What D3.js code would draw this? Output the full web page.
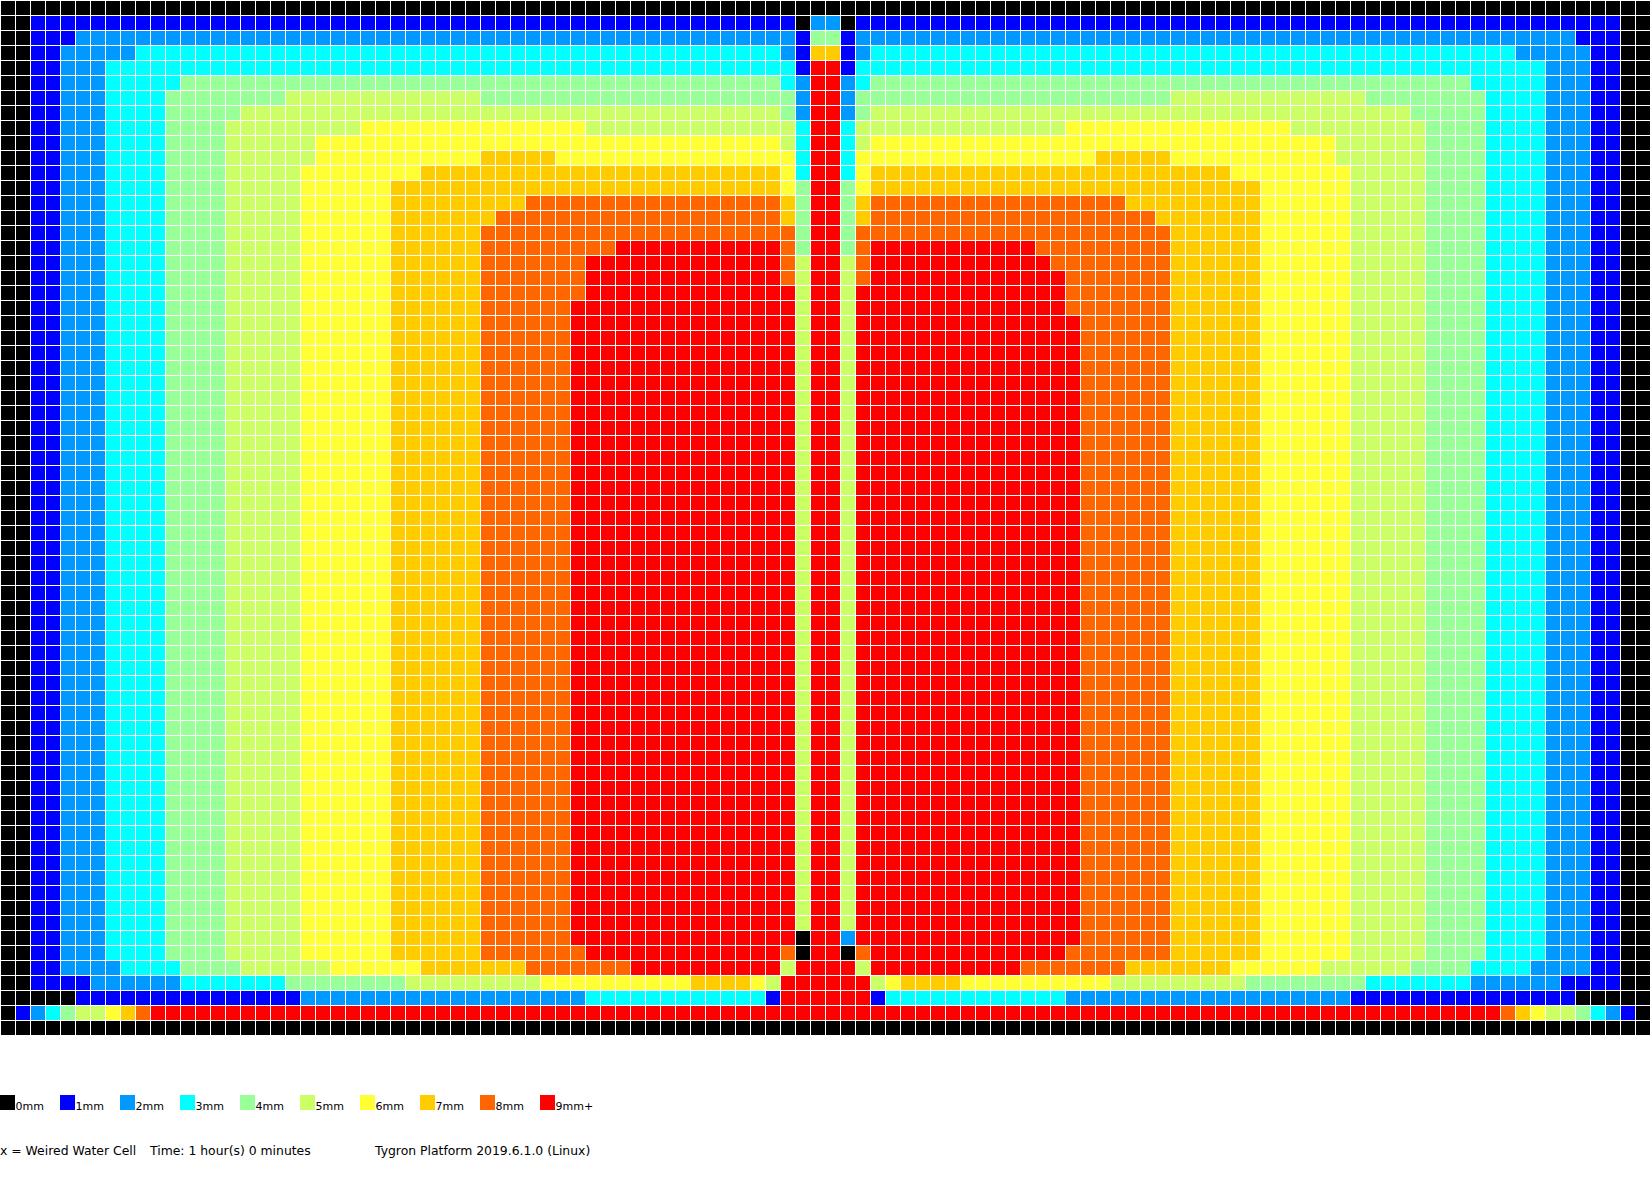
<!DOCTYPE html>
<html><head><meta charset="utf-8">
<script src="https://cdn.jsdelivr.net/npm/d3@7/dist/d3.min.js"></script>
<style>html,body{margin:0;padding:0;background:#fff}svg{display:block}text{font-family:"DejaVu Sans";fill:#000}.legend-label{font-size:11px}.footer{font-size:12.4px}</style>
</head><body><div id="chart"></div>
<script>
const depthClasses = [0,1,2,3,4,5,6,7,8,9];
const depthLabels = ["0mm","1mm","2mm","3mm","4mm","5mm","6mm","7mm","8mm","9mm+"];
const depthColors = ["#000000","#0000ff","#0099ff","#00ffff","#99ff99","#ccff66","#ffff33","#ffcc00","#ff6600","#ff0000"];
const footerTexts = ["x = Weired Water Cell","Time: 1 hour(s) 0 minutes","Tygron Platform 2019.6.1.0 (Linux)"];
const columnCount = 110;
// Each row, top to bottom: how many identical rows, then (depth class, run length) pairs.
const rowRepeats = [1,1,1,1,1,1,1,1,1,1,1,1,1,1,1,1,1,1,1,1,1,41,1,1,1,1,1,1,1];
const rowRuns = [
[0,110],
[0,2,1,51,0,1,2,2,0,1,1,51,0,2],
[0,2,1,3,2,48,1,1,4,2,1,1,2,48,1,3,0,2],
[0,2,1,2,2,5,3,43,2,1,1,1,7,2,1,1,2,1,3,43,2,5,1,2,0,2],
[0,2,1,2,2,3,3,46,1,1,9,2,1,1,3,46,2,3,1,2,0,2],
[0,2,1,2,2,3,3,5,4,40,3,1,2,1,9,2,2,1,3,1,4,40,3,5,2,3,1,2,0,2],
[0,2,1,2,2,3,3,4,4,8,5,13,4,21,2,1,9,2,2,1,4,21,5,13,4,8,3,4,2,3,1,2,0,2],
[0,2,1,2,2,3,3,4,4,5,5,36,4,1,2,1,9,2,2,1,4,1,5,36,4,5,3,4,2,3,1,2,0,2],
[0,2,1,2,2,3,3,4,4,4,5,9,6,15,5,14,3,1,9,2,3,1,5,14,6,15,5,9,4,4,3,4,2,3,1,2,0,2],
[0,2,1,2,2,3,3,4,4,4,5,6,6,31,5,1,3,1,9,2,3,1,5,1,6,31,5,6,4,4,3,4,2,3,1,2,0,2],
[0,2,1,2,2,3,3,4,4,4,5,6,6,11,7,5,6,16,3,1,9,2,3,1,6,16,7,5,6,11,5,6,4,4,3,4,2,3,1,2,0,2],
[0,2,1,2,2,3,3,4,4,4,5,5,6,8,7,24,6,1,3,1,9,2,3,1,6,1,7,24,6,8,5,5,4,4,3,4,2,3,1,2,0,2],
[0,2,1,2,2,3,3,4,4,4,5,5,6,6,7,26,6,1,4,1,9,2,4,1,6,1,7,26,6,6,5,5,4,4,3,4,2,3,1,2,0,2],
[0,2,1,2,2,3,3,4,4,4,5,5,6,6,7,9,8,17,7,1,4,1,9,2,4,1,7,1,8,17,7,9,6,6,5,5,4,4,3,4,2,3,1,2,0,2],
[0,2,1,2,2,3,3,4,4,4,5,5,6,6,7,7,8,19,7,1,4,1,9,2,4,1,7,1,8,19,7,7,6,6,5,5,4,4,3,4,2,3,1,2,0,2],
[0,2,1,2,2,3,3,4,4,4,5,5,6,6,7,6,8,21,4,1,9,2,4,1,8,21,7,6,6,6,5,5,4,4,3,4,2,3,1,2,0,2],
[0,2,1,2,2,3,3,4,4,4,5,5,6,6,7,6,8,9,9,11,8,1,4,1,9,2,4,1,8,1,9,11,8,9,7,6,6,6,5,5,4,4,3,4,2,3,1,2,0,2],
[0,2,1,2,2,3,3,4,4,4,5,5,6,6,7,6,8,7,9,13,8,1,5,1,9,2,5,1,8,1,9,12,8,8,7,6,6,6,5,5,4,4,3,4,2,3,1,2,0,2],
[0,2,1,2,2,3,3,4,4,4,5,5,6,6,7,6,8,7,9,13,8,1,5,1,9,2,5,1,8,1,9,13,8,7,7,6,6,6,5,5,4,4,3,4,2,3,1,2,0,2],
[0,2,1,2,2,3,3,4,4,4,5,5,6,6,7,6,8,7,9,14,5,1,9,2,5,1,9,14,8,7,7,6,6,6,5,5,4,4,3,4,2,3,1,2,0,2],
[0,2,1,2,2,3,3,4,4,4,5,5,6,6,7,6,8,6,9,15,5,1,9,2,5,1,9,14,8,7,7,6,6,6,5,5,4,4,3,4,2,3,1,2,0,2],
[0,2,1,2,2,3,3,4,4,4,5,5,6,6,7,6,8,6,9,15,5,1,9,2,5,1,9,15,8,6,7,6,6,6,5,5,4,4,3,4,2,3,1,2,0,2],
[0,2,1,2,2,3,3,4,4,4,5,5,6,6,7,6,8,6,9,15,0,1,9,2,2,1,9,15,8,6,7,6,6,6,5,5,4,4,3,4,2,3,1,2,0,2],
[0,2,1,2,2,3,3,4,4,4,5,5,6,6,7,6,8,7,9,13,8,1,0,1,9,2,0,1,8,1,9,13,8,7,7,6,6,6,5,5,4,4,3,4,2,3,1,2,0,2],
[0,2,1,2,2,4,3,4,4,4,5,6,6,6,7,7,8,7,9,10,5,1,9,4,5,1,9,10,8,7,7,7,6,6,5,6,4,4,3,4,2,4,1,2,0,2],
[0,2,1,4,2,6,3,7,4,8,5,9,6,10,7,4,6,1,5,1,9,6,5,1,6,1,7,4,6,10,5,9,4,8,3,7,2,6,1,4,0,2],
[0,5,1,15,2,19,3,12,1,1,9,6,1,1,3,12,2,19,1,15,0,5],
[0,1,1,1,2,1,3,1,4,1,5,2,6,1,7,1,8,1,9,90,8,1,7,1,6,1,5,2,4,1,3,1,2,1,1,1,0,1],
[0,110]
];

const cells = [];
let rowIndex = 0;
rowRuns.forEach((runs, i) => {
  d3.range(rowRepeats[i]).forEach(() => {
    let col = 0;
    for (let k = 0; k < runs.length; k += 2) {
      d3.range(runs[k + 1]).forEach(() => { cells.push({row: rowIndex, col: col++, depth: runs[k]}); });
    }
    if (col !== columnCount) console.error("row width", rowIndex, col);
    rowIndex++;
  });
});
const rowCount = rowIndex;
const cellSize = 15;

const x = d3.scaleBand().domain(d3.range(columnCount)).range([0, columnCount * cellSize]);
const y = d3.scaleBand().domain(d3.range(rowCount)).range([0, rowCount * cellSize]);
const color = d3.scaleOrdinal().domain(depthClasses).range(depthColors);
const legendX = d3.scalePoint().domain(depthClasses).range([0, 540]);

const svg = d3.select("#chart").append("svg").attr("width", 1650).attr("height", 1185);
svg.append("rect").attr("width", 1650).attr("height", 1185).attr("fill", "#fff");

svg.append("g").attr("shape-rendering", "crispEdges").selectAll("rect").data(cells).join("rect")
  .attr("x", d => x(d.col) + 1).attr("y", d => y(d.row) + 1)
  .attr("width", x.bandwidth() - 1).attr("height", y.bandwidth() - 1)
  .attr("fill", d => color(d.depth));

const legend = svg.append("g").selectAll("g").data(depthClasses).join("g")
  .attr("transform", d => `translate(${legendX(d)},1095)`);
legend.append("rect").attr("width", 15).attr("height", 15).attr("fill", d => color(d)).attr("shape-rendering", "crispEdges");
legend.append("text").attr("class", "legend-label").attr("x", 15.5).attr("y", 14.5).text(d => depthLabels[d]);

const footerX = [0, 150, 375];
svg.append("g").selectAll("text").data(footerTexts).join("text")
  .attr("class", "footer")
  .attr("x", (d, i) => footerX[i]).attr("y", 1155).text(d => d);
</script></body></html>
